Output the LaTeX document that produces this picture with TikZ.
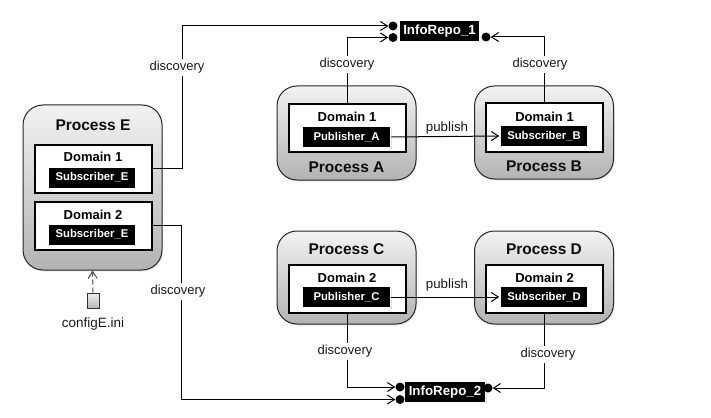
\documentclass[tikz,border=0pt]{standalone}
\usepackage{fontspec}
\setmainfont{Liberation Sans}
\usetikzlibrary{arrows.meta,shadows}

\begin{document}
\begin{tikzpicture}
[x=1pt,y=-1pt,>={Straight Barb[length=7pt,width=9pt]}]
\tikzset{
	process/.style = {draw=black!85, line width=1pt, rounded corners=20pt, top color=black!5, bottom color=black!30, minimum width=139pt, inner sep=0, drop shadow={opacity=0.2,shadow xshift=1pt,shadow yshift=-1.5pt}},
	processname/.style = {font=\fontsize{15.5}{16}\selectfont\bfseries, text=black!95, inner sep=0, yshift=-0.5pt},
	domainbox/.style = {draw=black, line width=2pt, fill=white, minimum width=117pt, minimum height=48pt, inner sep=0},
	domainname/.style = {font=\fontsize{13}{14}\selectfont\bfseries, text=black, inner sep=0, yshift=-1pt},
	endpoint/.style = {draw=white, line width=1.5pt, fill=black, text=white, minimum width=88pt, minimum height=21.5pt, inner sep=0, font=\fontsize{11.3}{12}\selectfont\bfseries, drop shadow={opacity=0.25,shadow xshift=1pt,shadow yshift=-1pt}},
	repo/.style = {endpoint, minimum width=81pt, minimum height=22pt, font=\fontsize{13.3}{14}\selectfont\bfseries},
	port/.style = {circle, fill=black, minimum size=9pt, inner sep=0},
	link/.style = {->, draw=black, line width=1pt},
	linktext/.style = {fill=white, inner sep=2pt, font=\fontsize{13}{14}\selectfont, text=black!90, yshift=-1.5pt}
}
\useasboundingbox (0,0) rectangle (711,417);

% process boxes
\node (procA) [process, minimum height=94pt] at (346.5,133) {};
\node (procB) [process, minimum height=93pt] at (544,132.5) {};
\node (procC) [process, minimum height=93pt] at (346.5,277.5) {};
\node (procD) [process, minimum height=93pt] at (544,277.5) {};
\node (procE) [process, minimum height=165pt] at (92.5,187.5) {};

\node (nameA) [processname] at (346.5,167) {Process A};
\node (nameB) [processname] at (544,166) {Process B};
\node (nameC) [processname] at (346.5,249) {Process C};
\node (nameD) [processname] at (544,249) {Process D};
\node (nameE) [processname] at (93,125) {Process E};

% domains
\node (domA) [domainbox] at (347,128) {};
\node (domB) [domainbox] at (544.5,127.5) {};
\node (domC) [domainbox] at (347,288.5) {};
\node (domD) [domainbox] at (544.5,288.5) {};
\node (domE1) [domainbox] at (93,168.5) {};
\node (domE2) [domainbox] at (93,225.5) {};

\node (titleA) [domainname] at (347,116) {Domain 1};
\node (titleB) [domainname] at (544.5,115.5) {Domain 1};
\node (titleC) [domainname] at (347,277) {Domain 2};
\node (titleD) [domainname] at (544.5,276.5) {Domain 2};
\node (titleE1) [domainname] at (93,156) {Domain 1};
\node (titleE2) [domainname] at (93,213.5) {Domain 2};

% publishers and subscribers
\node (pubA) [endpoint] at (346.5,137) {Publisher\_A};
\node (subB) [endpoint] at (544,136) {Subscriber\_B};
\node (pubC) [endpoint] at (346.5,297) {Publisher\_C};
\node (subD) [endpoint] at (544,297) {Subscriber\_D};
\node (subE1) [endpoint] at (92,177.5) {Subscriber\_E};
\node (subE2) [endpoint] at (92,234.5) {Subscriber\_E};

% repositories
\node (repo1) [repo] at (439.5,31) {InfoRepo\_1};
\node (repo2) [repo] at (445,392) {InfoRepo\_2};

\node (port1a) [port] at (393,26) {};
\node (port1b) [port] at (393,37.5) {};
\node (port1c) [port] at (486,37) {};
\node (port2a) [port] at (400,387) {};
\node (port2b) [port] at (400,399.5) {};
\node (port2c) [port] at (488,388) {};

% config file
\node (config) [draw=black!80, line width=1pt, top color=black!6, bottom color=black!28, minimum width=12pt, minimum height=15pt, inner sep=0] at (93,300.5) {};
\node (configname) [inner sep=0, font=\fontsize{13.5}{14}\selectfont, text=black!90, yshift=-1pt] at (93,323) {configE.ini};
\draw [link, dashed, draw=black!70, dash pattern=on 5pt off 3pt] (config.north) -- (procE.south);

% connectors
\draw [link] (domE1.east) -- ++(30,0) |- (port1a.west);
\draw [link] (domA.north) |- (port1b.west);
\draw [link] (domB.north) |- (port1c.east);
\draw [link] (domE2.east) -- ++(29,0) |- (port2b.west);
\draw [link] (domC.south) |- (port2a.west);
\draw [link] (domD.south) |- (port2c.east);
\draw [link] (pubA.east) -- (subB.west);
\draw [link] (pubC.east) -- (subD.west);

\node (discE1) [linktext] at (177,66) {discovery};
\node (discA) [linktext] at (347,63) {discovery};
\node (discB) [linktext] at (540,63) {discovery};
\node (discE2) [linktext] at (178,290) {discovery};
\node (discC) [linktext] at (345,350) {discovery};
\node (discD) [linktext] at (548,353) {discovery};
\node (pubtextA) [inner sep=0, font=\fontsize{13.3}{14}\selectfont, text=black!90, yshift=-1pt] at (447,127) {publish};
\node (pubtextC) [inner sep=0, font=\fontsize{13.3}{14}\selectfont, text=black!90, yshift=-1pt] at (447,284) {publish};
\end{tikzpicture}
\end{document}
